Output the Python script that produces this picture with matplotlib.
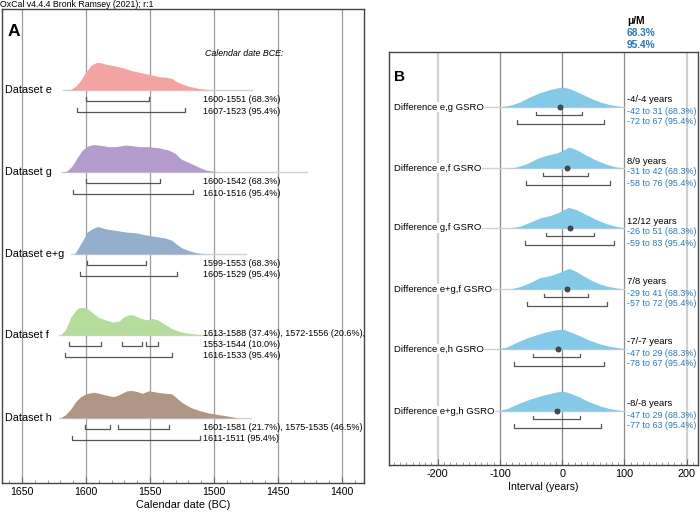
import matplotlib
matplotlib.use('Agg')
import matplotlib.pyplot as plt
import matplotlib.transforms as mtransforms
from matplotlib.ticker import MultipleLocator

plt.rcParams['font.family'] = ['Liberation Sans', 'DejaVu Sans']
plt.rcParams['axes.unicode_minus'] = False

# ---------------- Panel A data ----------------
labels_a = ['Dataset e', 'Dataset g', 'Dataset e+g', 'Dataset f', 'Dataset h']
colors_a = ['#f4a3a3', '#b39ccc', '#94afcb', '#b6dc9c', '#af9684']

e_years = [1618, 1612, 1608, 1604, 1600, 1596, 1592, 1588, 1585, 1579, 1574, 1569, 1564,
           1556, 1548, 1543, 1538, 1533, 1529, 1525, 1520, 1512, 1504, 1499]
e_dens = [0, 2, 14, 36, 66, 90, 100, 99, 94, 89, 84, 78, 70, 62, 54, 48, 47, 42, 30, 22, 14, 6, 1, 0]

g_years = [1619, 1615, 1611, 1607, 1603, 1599, 1594, 1590, 1582, 1577, 1569, 1564, 1559,
           1551, 1543, 1535, 1530, 1526, 1522, 1517, 1512, 1507, 1501, 1496]
g_dens = [0, 3, 21, 51, 79, 94, 100, 98, 92, 92, 98, 96, 92, 92, 88, 79, 67, 48, 39, 29, 18, 8, 3, 0]

eg_years = [1609, 1606, 1602, 1599, 1595, 1591, 1585, 1577, 1569, 1561, 1553, 1546, 1538,
            1533, 1529, 1525, 1520, 1514, 1509, 1505]
eg_dens = [0, 22, 54, 80, 92, 100, 92, 86, 80, 77, 69, 64, 58, 50, 35, 22, 13, 5, 1, 0]

f_years = [1620, 1616, 1612, 1608, 1606, 1602, 1598, 1594, 1590, 1585, 1579, 1574, 1570,
           1566, 1563, 1559, 1553, 1548, 1544, 1538, 1533, 1527, 1522, 1514, 1507, 1499]
f_dens = [0, 19, 64, 90, 99, 100, 93, 77, 64, 55, 47, 51, 67, 74, 73, 64, 55, 60, 55, 38,
          23, 13, 8, 3, 1, 0]

h_years = [1620, 1616, 1612, 1608, 1604, 1600, 1594, 1590, 1585, 1579, 1576, 1572, 1568,
           1564, 1560, 1556, 1551, 1547, 1543, 1538, 1533, 1529, 1526, 1522, 1517, 1512,
           1504, 1496, 1488, 1481]
h_dens = [0, 12, 32, 60, 78, 88, 94, 90, 84, 78, 81, 90, 99, 100, 96, 90, 99, 96, 93, 90,
          88, 72, 60, 48, 36, 28, 18, 12, 6, 0]

years_a = [e_years, g_years, eg_years, f_years, h_years]
dens_a = [e_dens, g_dens, eg_dens, f_dens, h_dens]
baseline_ext = [(1618, 1470), (1619, 1427), (1612, 1475), (1621, 1490), (1621, 1471)]

r68_a = [[(1600, 1551)], [(1600, 1542)], [(1599, 1553)],
         [(1613, 1588), (1572, 1556), (1553, 1544)], [(1601, 1581), (1575, 1535)]]
r95_a = [[(1607, 1523)], [(1610, 1516)], [(1605, 1529)], [(1616, 1533)], [(1611, 1511)]]
text_a = [['1600-1551 (68.3%)', '1607-1523 (95.4%)'],
          ['1600-1542 (68.3%)', '1610-1516 (95.4%)'],
          ['1599-1553 (68.3%)', '1605-1529 (95.4%)'],
          ['1613-1588 (37.4%), 1572-1556 (20.6%),', '1553-1544 (10.0%)', '1616-1533 (95.4%)'],
          ['1601-1581 (21.7%), 1575-1535 (46.5%)', '1611-1511 (95.4%)']]
ticks_a = [1650, 1600, 1550, 1500, 1450, 1400]

# ---------------- Panel B data ----------------
labels_b = ['Difference e,g GSRO', 'Difference e,f GSRO', 'Difference g,f GSRO',
            'Difference e+g,f GSRO', 'Difference e,h GSRO', 'Difference e+g,h GSRO']
mu_b = [-4, 8, 12, 7, -7, -8]
med_b = [-4, 9, 12, 8, -7, -8]
r68_b = [(-42, 31), (-31, 42), (-26, 51), (-29, 41), (-47, 29), (-47, 29)]
r95_b = [(-72, 67), (-58, 76), (-59, 83), (-57, 72), (-78, 67), (-77, 63)]

eg_x = [-100, -84, -68, -52, -36, -20, -9, 1, 12, 28, 44, 61, 77, 93, 101]
eg_y = [0, 1.7, 5, 10, 14.3, 17.3, 19, 20, 18.3, 14, 9.3, 5, 2.3, 0.7, 0]
ef_x = [-89, -73, -57, -41, -25, -9, 1, 11, 23, 39, 55, 71, 87, 101]
ef_y = [0, 1, 4.3, 9.3, 12.7, 15, 17.7, 21, 18.3, 12.7, 7.7, 3.7, 1, 0]
gf_x = [-84, -68, -52, -36, -20, -6, 10, 23, 39, 55, 71, 87, 101]
gf_y = [0, 1.7, 5.7, 10, 12.3, 15.7, 20.7, 18.3, 13.3, 8.3, 4.3, 1.7, 0]
egf_x = [-84, -68, -52, -36, -20, -4, 11, 23, 39, 55, 71, 87, 98]
egf_y = [0, 2.3, 6.3, 11.3, 13.3, 16.7, 20.7, 17.3, 11.3, 6.3, 3, 1, 0]
eh_x = [-105, -89, -73, -57, -41, -25, -9, 2, 12, 28, 44, 61, 77, 93, 109]
eh_y = [0, 2, 6.7, 11, 14.3, 17.3, 19.3, 19.7, 17.3, 13.3, 8.7, 5, 2.7, 1, 0]
egh_x = [-105, -89, -73, -57, -41, -25, -9, 1, 12, 28, 44, 61, 77, 93, 106]
egh_y = [0, 2.3, 6.7, 10.7, 14, 16.7, 19, 20, 18, 14, 9, 5, 2.3, 0.7, 0]
xs_b = [eg_x, ef_x, gf_x, egf_x, eh_x, egh_x]
ys_b = [eg_y, ef_y, gf_y, egf_y, eh_y, egh_y]
ticks_b = [-200, -100, 0, 100, 200]

# ---------------- Figure ----------------
W, H = 700, 513
fig = plt.figure(figsize=(W / 100, H / 100), dpi=100)
BLUE_TXT = '#2a78b4'
DARK = '#555555'


def ax_rect(l, r, t, b):
    return [l / W, (H - b) / H, (r - l) / W, (b - t) / H]


# ---- Panel A ----
axA = fig.add_axes(ax_rect(2, 364, 9, 483))
axA.set_xlim(1665.6, 1382.8)
axA.set_ylim(483, 9)
for t in ticks_a:
    axA.axvline(t, color='#9c9c9c', lw=0.9, zorder=0)
tA = mtransforms.blended_transform_factory(axA.transAxes, axA.transData)
baselines_a = [90, 172, 254, 335, 418]
hscale = 27.5 / 100
for i, base in enumerate(baselines_a):
    axA.plot(baseline_ext[i], [base, base], color='#d2d2d2', lw=1, zorder=1)
    top = [base - d * hscale for d in dens_a[i]]
    axA.fill_between(years_a[i], base, top, color=colors_a[i], lw=0, zorder=2)
    axA.text(0.008, base, labels_a[i], transform=tA, va='center', ha='left', fontsize=7.8, zorder=5)
    for k, rngs in enumerate([r68_a[i], r95_a[i]]):
        yb = base + 11 + 11 * k
        for (a, b) in rngs:
            axA.plot([a, a, b, b], [yb - 4, yb, yb, yb - 4], color=DARK, lw=0.9, zorder=3)
    lines = text_a[i]
    n = len(lines)
    for j, ln in enumerate(lines):
        yy = base + 21 - 11 * (n - 1 - j)
        axA.text(0.555, yy, ln, transform=tA, va='center', ha='left', fontsize=6.5, zorder=5)

axA.text(0.014, 31, 'A', transform=tA, fontsize=12.5, fontweight='bold', va='center', ha='left')
axA.text(0.56, 53, 'Calendar date BCE:', transform=tA, fontsize=6.4, style='italic',
         va='center', ha='left')
axA.set_xticks(ticks_a)
axA.set_xticklabels([str(t) for t in ticks_a], fontsize=7.6)
axA.xaxis.set_minor_locator(MultipleLocator(10))
axA.tick_params(axis='x', which='major', direction='in', length=4, width=0.8, color='#666', pad=3)
axA.tick_params(axis='x', which='minor', direction='in', length=2, width=0.6, color='#888')
axA.set_yticks([])
axA.set_xlabel('Calendar date (BC)', fontsize=7.8, labelpad=2)
for s in axA.spines.values():
    s.set_color('#444444')
    s.set_linewidth(1.0)

fig.text(0 / W, 1 - 4.5 / H, 'OxCal v4.4.4 Bronk Ramsey (2021); r:1', fontsize=6.3,
         va='center', ha='left')

# ---- Panel B ----
axB = fig.add_axes(ax_rect(389, 698, 52, 465))
axB.set_xlim(-278, 218)
axB.set_ylim(465, 52)
for t in ticks_b:
    if abs(t) == 200:
        axB.axvline(t, color='#d0d0d0', lw=1.6, zorder=0)
    else:
        axB.axvline(t, color='#8a8a8a', lw=0.9, zorder=0)
tB = mtransforms.blended_transform_factory(axB.transAxes, axB.transData)
baselines_b = [107, 168, 228, 289, 349, 411]
for i, base in enumerate(baselines_b):
    axB.plot([-135, 100], [base, base], color='#d2d2d2', lw=1, zorder=1)
    top = [base - v for v in ys_b[i]]
    axB.fill_between(xs_b[i], base, top, color='#84c9e7', lw=0, zorder=2)
    axB.plot([mu_b[i]], [base], 'o', ms=3.6, color='#4a4a4a', mec='#333333', mew=0.6, zorder=4)
    for k, (a, b) in enumerate([r68_b[i], r95_b[i]]):
        yb = base + 8 + 8.5 * k
        axB.plot([a, a, b, b], [yb - 3.5, yb, yb, yb - 3.5], color=DARK, lw=0.9, zorder=3)
    axB.text(0.016, base, labels_b[i], transform=tB, va='center', ha='left', fontsize=6.8,
             zorder=5, bbox=dict(facecolor='white', edgecolor='none', pad=0.3))
    axB.text(0.770, base - 7, f'{mu_b[i]}/{med_b[i]} years', transform=tB, va='center',
             ha='left', fontsize=6.8, zorder=5)
    axB.text(0.770, base + 4, f'{r68_b[i][0]} to {r68_b[i][1]} (68.3%)', transform=tB,
             va='center', ha='left', fontsize=6.4, color=BLUE_TXT, zorder=5)
    axB.text(0.770, base + 15, f'{r95_b[i][0]} to {r95_b[i][1]} (95.4%)', transform=tB,
             va='center', ha='left', fontsize=6.4, color=BLUE_TXT, zorder=5)

axB.text(0.016, 77, 'B', transform=tB, fontsize=11, fontweight='bold', va='center', ha='left')
axB.set_xticks(ticks_b)
axB.set_xticklabels([str(t) for t in ticks_b], fontsize=7.8)
axB.xaxis.set_minor_locator(MultipleLocator(10))
axB.tick_params(axis='x', which='major', direction='in', length=4, width=0.8, color='#666', pad=3)
axB.tick_params(axis='x', which='minor', direction='in', length=2, width=0.6, color='#888')
axB.set_yticks([])
axB.set_xlabel('Interval (years)', fontsize=7.6, labelpad=2)
for s in axB.spines.values():
    s.set_color('#444444')
    s.set_linewidth(1.0)

hx = 627 / W
fig.text(hx, 1 - 21.5 / H, 'μ/M', fontsize=7.3, fontweight='bold', va='center', ha='left')
fig.text(hx, 1 - 33.5 / H, '68.3%', fontsize=7.3, fontweight='bold', va='center', ha='left',
         color=BLUE_TXT)
fig.text(hx, 1 - 44.5 / H, '95.4%', fontsize=7.3, fontweight='bold', va='center', ha='left',
         color=BLUE_TXT)

fig.savefig('out.png', dpi=100)
